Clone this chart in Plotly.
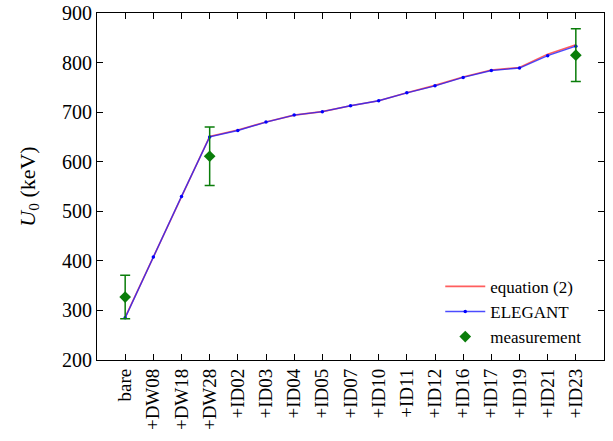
import plotly.graph_objects as go

categories = ["bare", "+DW08", "+DW18", "+DW28", "+ID02", "+ID03", "+ID04", "+ID05",
              "+ID07", "+ID10", "+ID11", "+ID12", "+ID16", "+ID17", "+ID19", "+ID21", "+ID23"]
equation2 = [286, 408, 531, 651, 664, 680, 694, 701, 713, 723, 739, 754, 771, 785, 790, 817, 836]
elegant = [285, 408, 530, 650, 663, 680, 694, 701, 713, 723, 739, 753, 770, 784, 789, 814, 833]
meas_cats = ["bare", "+DW28", "+ID23"]
meas_vals = [327, 611, 815]
meas_err = [44, 59, 53]

idx = {c: i for i, c in enumerate(categories)}
xs = list(range(len(categories)))
mx = [idx[c] for c in meas_cats]

font = "Liberation Serif"

fig = go.Figure()
fig.add_trace(go.Scatter(x=xs, y=equation2, mode="lines", name="equation (2)",
                         line=dict(color="rgba(255,40,40,0.75)", width=1.6)))
fig.add_trace(go.Scatter(x=xs, y=elegant, mode="lines+markers", name="ELEGANT",
                         line=dict(color="rgba(30,30,255,0.8)", width=1.4),
                         marker=dict(color="blue", size=3.5)))
fig.add_trace(go.Scatter(x=mx, y=meas_vals, mode="markers", name="measurement",
                         marker=dict(symbol="diamond", color="#0a7d0a", size=9),
                         error_y=dict(type="data", array=meas_err, color="#0a7d0a",
                                      thickness=1.5, width=5)))

fig.update_layout(
    width=613, height=441,
    margin=dict(l=97, r=9, t=13, b=81),
    plot_bgcolor="white", paper_bgcolor="white",
    font=dict(family=font, size=17, color="black"),
    showlegend=True,
    legend=dict(x=0.965, y=0.015, xanchor="right", yanchor="bottom",
                bgcolor="rgba(0,0,0,0)", font=dict(size=17, family=font),
                tracegroupgap=0, itemwidth=40),
)
fig.update_xaxes(
    range=[-1, 17], tickmode="array", tickvals=xs, ticktext=categories,
    tickangle=-90, ticks="inside", ticklen=6, tickwidth=1, tickcolor="black",
    showline=True, linecolor="black", linewidth=1.2, mirror="ticks",
    showgrid=False, zeroline=False, tickfont=dict(size=19, family=font),
    automargin=False,
)
fig.update_yaxes(
    range=[200, 900], dtick=100, ticks="inside", ticklen=6, tickwidth=1, tickcolor="black",
    showline=True, linecolor="black", linewidth=1.2, mirror="ticks",
    showgrid=False, zeroline=False, tickfont=dict(size=20, family=font),
    title=dict(text="<i>U</i><sub>0</sub> (keV)", font=dict(size=22, family=font), standoff=20),
    automargin=False,
)
fig.write_html("out.html")
